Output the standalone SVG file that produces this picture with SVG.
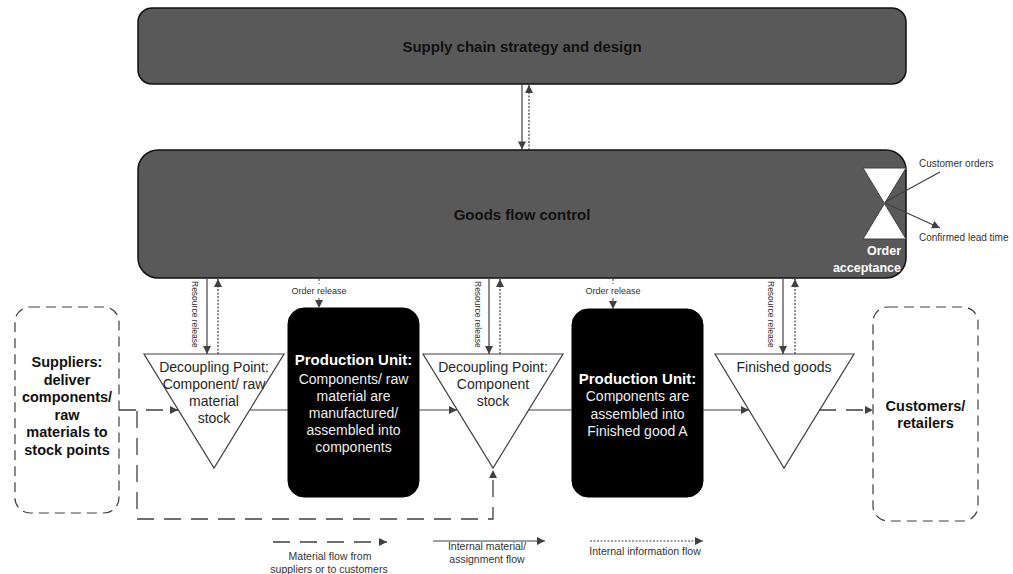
<svg xmlns="http://www.w3.org/2000/svg" width="1013" height="574" viewBox="0 0 1013 574">
  <style>
    .band { fill: #595959; stroke: #111; stroke-width: 1.5; }
    .band-title { font: bold 15px "Liberation Sans", Arial, sans-serif; fill: #111; text-anchor: middle; }
    .stock { fill: #fff; stroke: #404040; stroke-width: 1.2; }
    .stock-text { font: 14px "Liberation Sans", Arial, sans-serif; fill: #262626; text-anchor: middle; }
    .unit { fill: #000; stroke: #000; }
    .unit-title { font: bold 15px "Liberation Sans", Arial, sans-serif; fill: #fff; text-anchor: middle; }
    .unit-text { font: 14px "Liberation Sans", Arial, sans-serif; fill: #eee; text-anchor: middle; }
    .party { fill: #fff; stroke: #404040; stroke-width: 1.2; stroke-dasharray: 10 6; }
    .party-text { font: bold 14.5px "Liberation Sans", Arial, sans-serif; fill: #111; text-anchor: middle; }
    .small { font: 8.5px "Liberation Sans", Arial, sans-serif; fill: #333; }
    .note { font: 10px "Liberation Sans", Arial, sans-serif; fill: #333; }
    .legend { font: 10.5px "Liberation Sans", Arial, sans-serif; fill: #333; text-anchor: middle; }
    .solid { fill: none; stroke: #404040; stroke-width: 1.2; }
    .dotted { fill: none; stroke: #404040; stroke-width: 1.2; stroke-dasharray: 2 1.5; }
    .dashed { fill: none; stroke: #404040; stroke-width: 1.3; stroke-dasharray: 17 10; }
    .release { fill: none; stroke: #404040; stroke-width: 1; stroke-dasharray: 3 2; }
  </style>
  <defs>
    <marker id="arrow" viewBox="0 0 10 10" refX="10" refY="5" markerUnits="userSpaceOnUse" markerWidth="9" markerHeight="8" orient="auto">
      <path d="M0,0 L10,5 L0,10 z" fill="#404040"/>
    </marker>
  </defs>

  <rect width="1013" height="574" fill="#fff"/>

  <!-- planning layers -->
  <g id="strategy">
    <rect class="band" x="138" y="8" width="768" height="76" rx="14"/>
    <text class="band-title" x="522" y="52">Supply chain strategy and design</text>
  </g>

  <g id="goods-flow-control">
    <rect class="band" x="138" y="150" width="768" height="128" rx="20"/>
    <text class="band-title" x="522" y="220">Goods flow control</text>
  </g>

  <g id="order-acceptance">
    <path d="M863,168 L906,168 L884.5,203.5 L906,239 L863,239 L884.5,203.5 Z" fill="#fff" stroke="#404040" stroke-width="1"/>
    <text x="901" y="255" text-anchor="end" style="font: bold 12.5px 'Liberation Sans', Arial, sans-serif; fill: #fff;">Order</text>
    <text x="901" y="272" text-anchor="end" style="font: bold 12.5px 'Liberation Sans', Arial, sans-serif; fill: #fff;">acceptance</text>
    <text class="note" x="919" y="167">Customer orders</text>
    <text class="note" x="919" y="241">Confirmed lead time</text>
  </g>

  <!-- external parties -->
  <g id="suppliers">
    <rect class="party" x="15" y="307" width="104" height="206" rx="15"/>
    <text class="party-text" x="67" y="367">Suppliers:</text>
    <text class="party-text" x="67" y="385">deliver</text>
    <text class="party-text" x="67" y="402">components/</text>
    <text class="party-text" x="67" y="420">raw</text>
    <text class="party-text" x="67" y="437">materials to</text>
    <text class="party-text" x="67" y="455">stock points</text>
  </g>

  <g id="customers">
    <rect class="party" x="873" y="307" width="105" height="214" rx="15"/>
    <text class="party-text" x="925.5" y="411">Customers/</text>
    <text class="party-text" x="925.5" y="428">retailers</text>
  </g>

  <!-- stock points -->
  <g id="stock-raw">
    <polygon class="stock" points="144,354 284,354 214,468"/>
    <text class="stock-text" x="214" y="372">Decoupling Point:</text>
    <text class="stock-text" x="214" y="389">Component/ raw</text>
    <text class="stock-text" x="214" y="406">material</text>
    <text class="stock-text" x="214" y="423">stock</text>
  </g>

  <g id="stock-component">
    <polygon class="stock" points="423,354 563,354 493,468"/>
    <text class="stock-text" x="493" y="372">Decoupling Point:</text>
    <text class="stock-text" x="493" y="389">Component</text>
    <text class="stock-text" x="493" y="406">stock</text>
  </g>

  <g id="stock-finished">
    <polygon class="stock" points="715,354 854,354 784,468"/>
    <text class="stock-text" x="784" y="372">Finished goods</text>
  </g>

  <!-- production units -->
  <g id="unit-components">
    <rect class="unit" x="288" y="308" width="131" height="189" rx="16"/>
    <text class="unit-title" x="353.5" y="365">Production Unit:</text>
    <text class="unit-text" x="353.5" y="384">Components/ raw</text>
    <text class="unit-text" x="353.5" y="401">material are</text>
    <text class="unit-text" x="353.5" y="418">manufactured/</text>
    <text class="unit-text" x="353.5" y="435">assembled into</text>
    <text class="unit-text" x="353.5" y="452">components</text>
  </g>

  <g id="unit-assembly">
    <rect class="unit" x="572" y="309" width="131" height="188" rx="16"/>
    <text class="unit-title" x="637.5" y="384">Production Unit:</text>
    <text class="unit-text" x="637.5" y="401">Components  are</text>
    <text class="unit-text" x="637.5" y="419">assembled into</text>
    <text class="unit-text" x="637.5" y="436">Finished good A</text>
  </g>

  <!-- flows -->
  <g id="connectors">
    <!-- strategy <-> control -->
    <line class="solid" x1="522" y1="84" x2="522" y2="149.5" marker-end="url(#arrow)"/>
    <line class="dotted" x1="529" y1="150" x2="529" y2="85" marker-end="url(#arrow)"/>

    <!-- order acceptance in/out -->
    <line class="solid" x1="940" y1="172" x2="885" y2="202" stroke-width="1"/>
    <line class="solid" x1="885" y1="203" x2="940" y2="228" stroke-width="1" marker-end="url(#arrow)"/>

    <!-- resource release / feedback -->
    <line class="solid" x1="207" y1="278" x2="207" y2="354" marker-end="url(#arrow)"/>
    <line class="dotted" x1="218" y1="354" x2="218" y2="279" marker-end="url(#arrow)"/>
    <line class="solid" x1="489" y1="278" x2="489" y2="354" marker-end="url(#arrow)"/>
    <line class="dotted" x1="500" y1="354" x2="500" y2="279" marker-end="url(#arrow)"/>
    <line class="solid" x1="783" y1="278" x2="783" y2="354" marker-end="url(#arrow)"/>
    <line class="dotted" x1="795" y1="354" x2="795" y2="279" marker-end="url(#arrow)"/>
    <text class="small" transform="translate(191.5,281) rotate(90)">Resource release</text>
    <text class="small" transform="translate(474.5,281) rotate(90)">Resource release</text>
    <text class="small" transform="translate(767.5,281) rotate(90)">Resource release</text>

    <!-- order release -->
    <line class="release" x1="319" y1="278" x2="319" y2="308" marker-end="url(#arrow)"/>
    <rect x="289" y="284" width="60" height="12" fill="#fff"/>
    <text class="small" x="319" y="294" text-anchor="middle" style="font-size:9px">Order release</text>
    <line class="release" x1="613" y1="278" x2="613" y2="309" marker-end="url(#arrow)"/>
    <rect x="583" y="284" width="60" height="12" fill="#fff"/>
    <text class="small" x="613" y="294" text-anchor="middle" style="font-size:9px">Order release</text>

    <!-- internal material flow -->
    <line class="solid" x1="250" y1="410" x2="288" y2="410"/>
    <line class="solid" x1="419" y1="410" x2="457" y2="410" marker-end="url(#arrow)"/>
    <line class="solid" x1="528" y1="410" x2="572" y2="410"/>
    <line class="solid" x1="703" y1="410" x2="749" y2="410" marker-end="url(#arrow)"/>

    <!-- external material flow -->
    <line class="dashed" x1="119" y1="410" x2="178" y2="410" marker-end="url(#arrow)"/>
    <polyline class="dashed" points="137,411 137,519 493,519 493,470" marker-end="url(#arrow)"/>
    <line class="dashed" x1="819" y1="410" x2="873" y2="410" stroke-dasharray="21 9" marker-end="url(#arrow)"/>
  </g>

  <!-- key -->
  <g id="legend">
    <line class="dashed" x1="273" y1="542" x2="387" y2="542" marker-end="url(#arrow)"/>
    <text class="legend" x="330" y="560">Material flow from</text>
    <text class="legend" x="329" y="573">suppliers or to customers</text>
    <line class="solid" x1="433" y1="541" x2="545" y2="541" marker-end="url(#arrow)"/>
    <text class="legend" x="487" y="550">Internal material/</text>
    <text class="legend" x="487" y="563">assignment flow</text>
    <line class="dotted" x1="590" y1="541" x2="703" y2="541" marker-end="url(#arrow)"/>
    <text class="legend" x="645" y="555">Internal information flow</text>
  </g>
</svg>
